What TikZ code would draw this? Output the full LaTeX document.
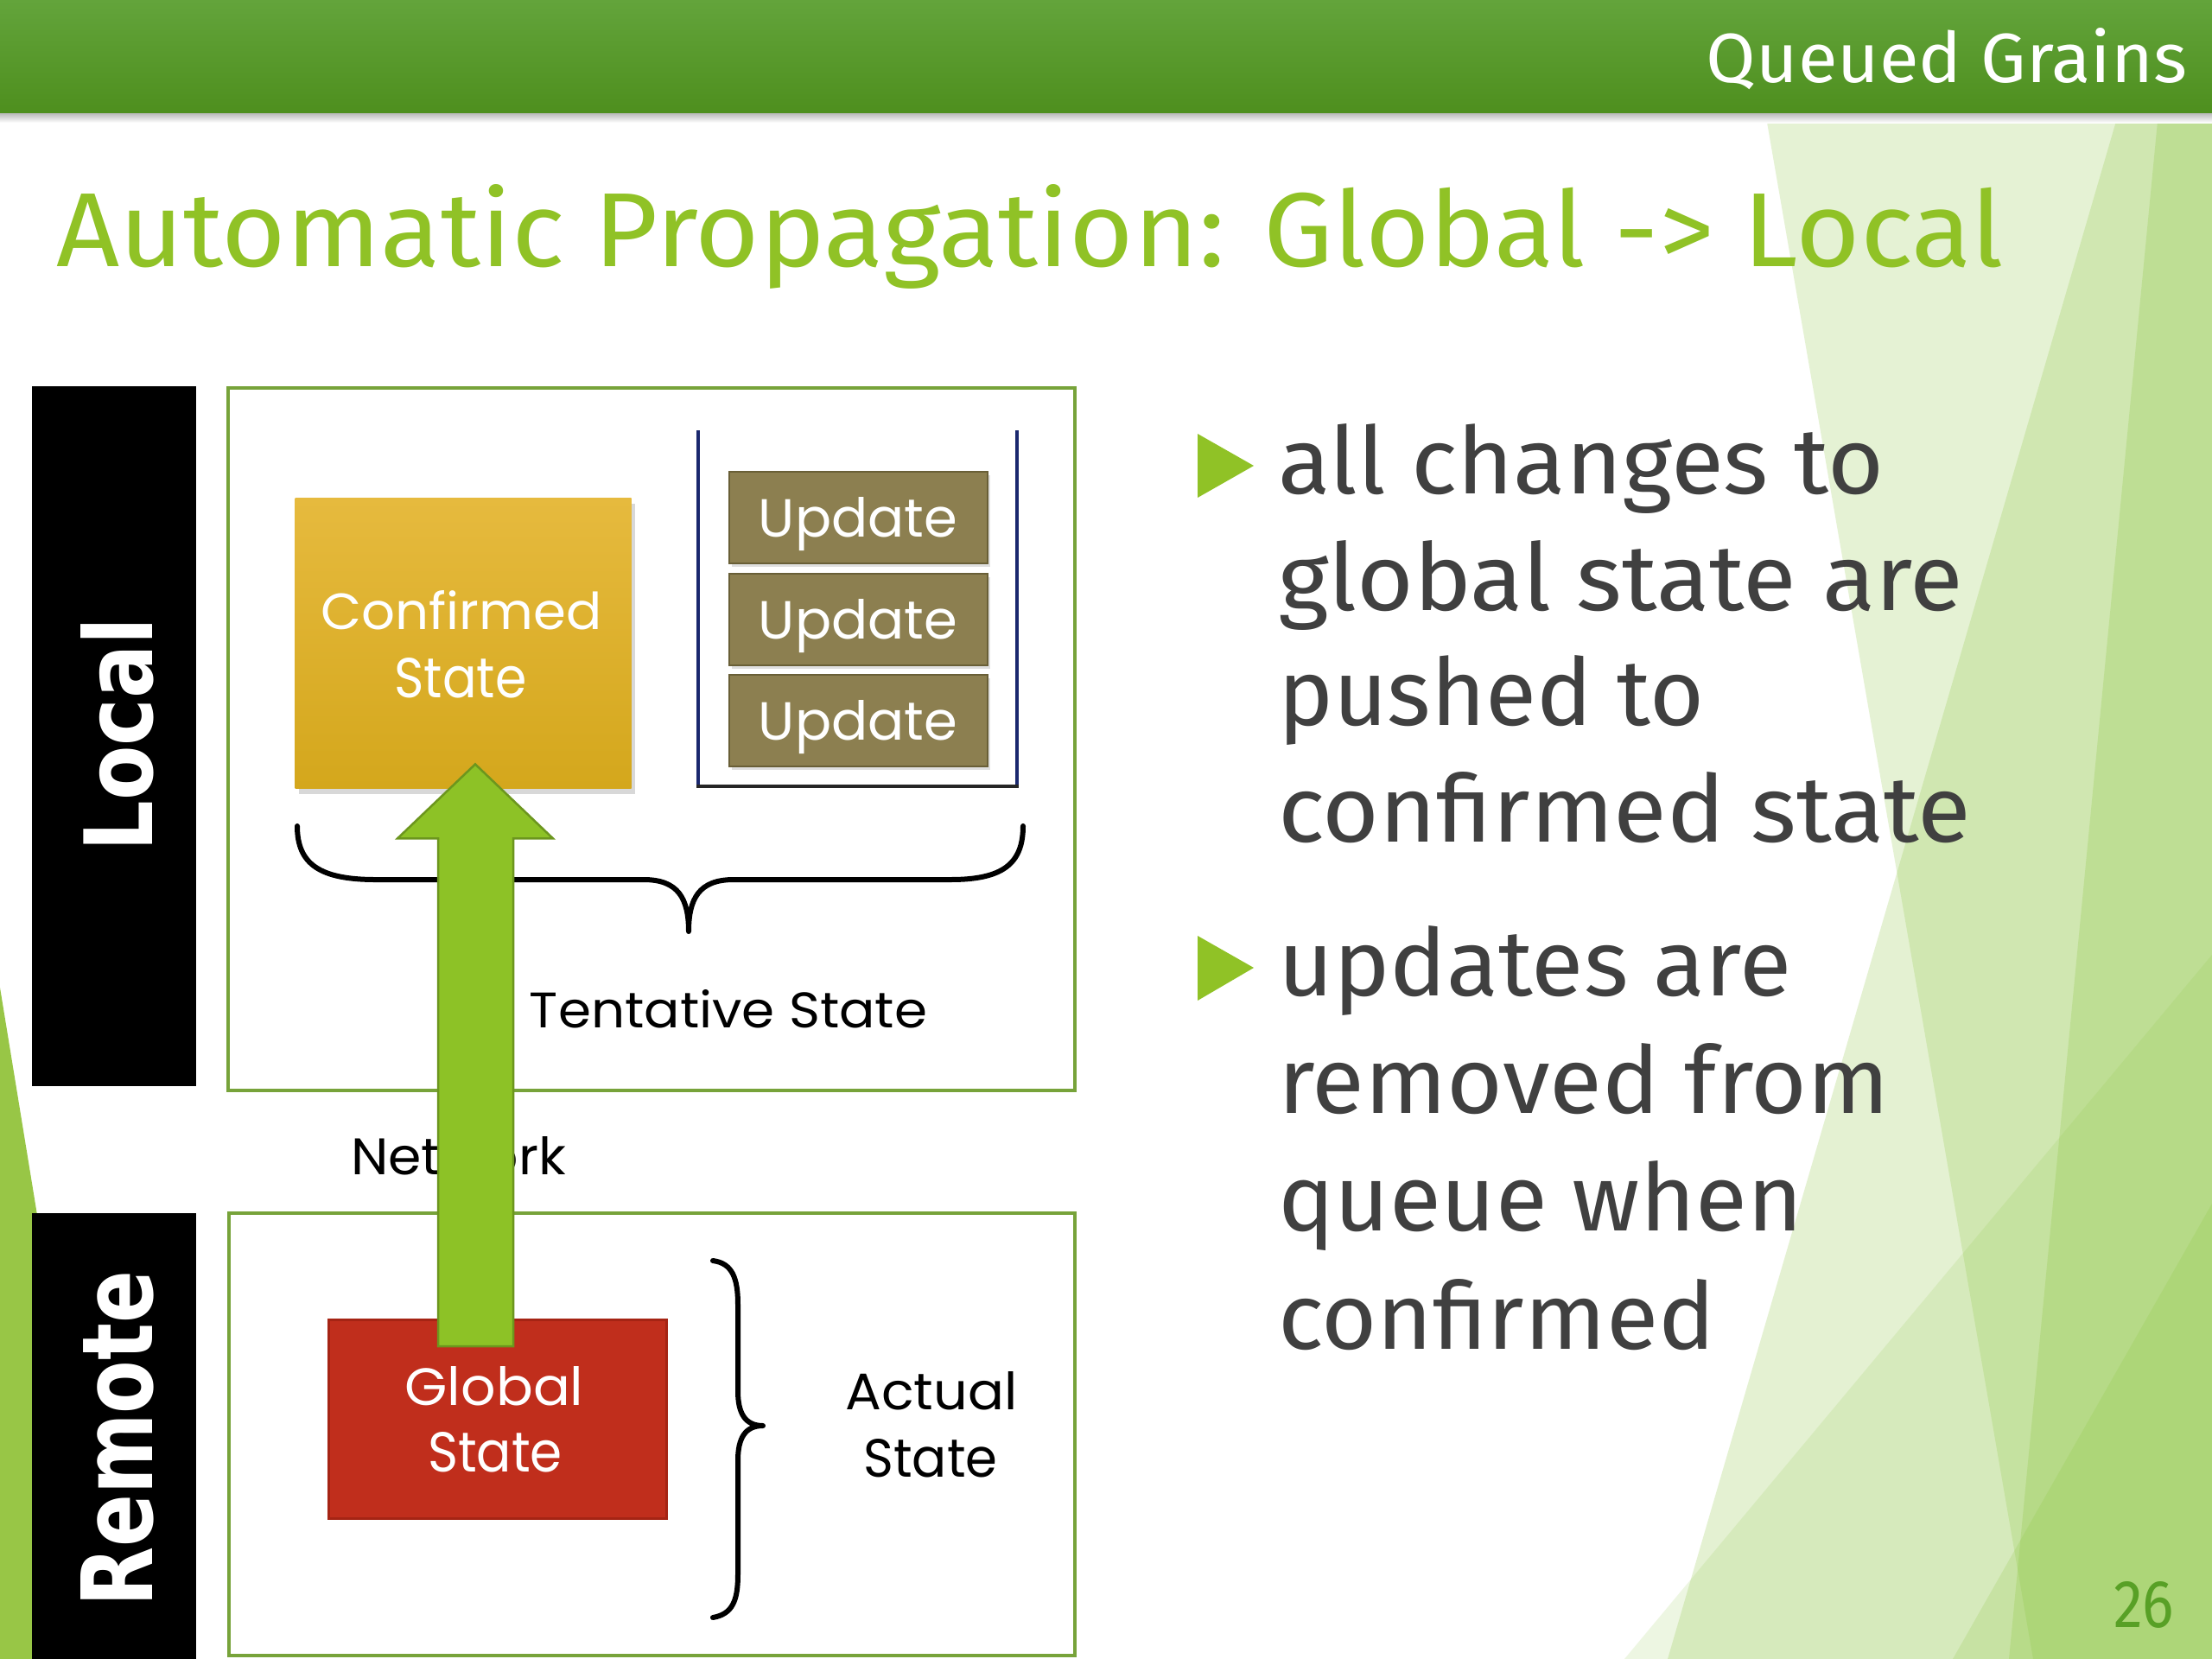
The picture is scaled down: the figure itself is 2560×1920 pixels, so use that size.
\documentclass[tikz,border=0pt]{standalone}
\usepackage{graphicx}
\usepackage{fontspec}
\setmainfont{Fira Sans}
\newfontfamily\diagfont{Poppins}
\newfontfamily\sidefont{DejaVu Sans}
\usetikzlibrary{shadows,calc}
\newlength\pxu \setlength\pxu{0.1mm}
\newcommand\fitt[3]{\resizebox{#1\pxu}{#2\pxu}{#3}}
\definecolor{hdrtop}{RGB}{99,164,59}
\definecolor{hdrbot}{RGB}{78,143,30}
\definecolor{ttl}{RGB}{144,194,38}
\definecolor{bgreen}{RGB}{140,198,63}
\definecolor{txt}{RGB}{64,64,64}
\definecolor{frm}{RGB}{119,163,58}
\definecolor{gold1}{RGB}{230,186,62}
\definecolor{gold2}{RGB}{212,167,28}
\definecolor{upd}{RGB}{140,127,80}
\definecolor{updb}{RGB}{105,95,55}
\definecolor{navy}{RGB}{26,40,110}
\definecolor{gred}{RGB}{192,46,28}
\definecolor{gredb}{RGB}{165,36,20}
\definecolor{arrg}{RGB}{141,194,38}
\definecolor{arrb}{RGB}{108,150,30}
\definecolor{pgn}{RGB}{88,160,38}
\definecolor{wedge}{RGB}{152,198,70}
\tikzset{
  lbl/.style={inner sep=0pt, outer sep=0pt},
  bodyline/.style={lbl, anchor=base west, text=txt},
  wtext/.style={lbl, anchor=base, text=white, font=\diagfont},
  ktext/.style={lbl, anchor=base, text=black, font=\diagfont},
  frame/.style={draw=frm, line width=0.35mm, fill=white},
  updbox/.style={fill=upd, draw=updb, line width=0.2mm, minimum width=299\pxu, minimum height=106\pxu, inner sep=0pt, anchor=north west, drop shadow={opacity=0.25, shadow xshift=0.3mm, shadow yshift=-0.4mm}},
  bracepath/.style={draw=black, line width=0.6mm, line cap=round, line join=round},
  bullettri/.style={fill=ttl},
}
\begin{document}
\begin{tikzpicture}[x=0.1mm,y=-0.1mm]
\useasboundingbox (0,0) rectangle (2560,1920);
\fill[white] (0,0) rectangle (2560,1920);
% background facets
\fill[bgreen,opacity=0.22] (2043,130) -- (2560,130) -- (2560,1920) -- (2353,1920) -- cycle;
\fill[bgreen,opacity=0.23] (2452,130) -- (2560,130) -- (2560,1920) -- (1930,1920) -- cycle;
\fill[bgreen,opacity=0.25] (2498,130) -- (2560,130) -- (2560,1920) -- (2325,1920) -- cycle;
\fill[bgreen,opacity=0.15] (1880,1920) -- (2560,1105) -- (2560,1920) -- cycle;
\fill[bgreen,opacity=0.20] (2260,1920) -- (2560,1393) -- (2560,1920) -- cycle;
% header bar
\shade[top color=black!30,bottom color=white] (0,130) rectangle (2560,142);
\shade[top color=hdrtop,bottom color=hdrbot] (0,0) rectangle (2560,130);
\node[lbl, anchor=base east, text=white] (hdr) at (2531,95) {\fitt{556}{63}{Queued Grains}};
% title
\node[lbl, anchor=base west, text=ttl] (title) at (65,308) {\fitt{2253}{95}{Automatic Propagation: Global -> Local}};
% left wedge
\fill[wedge] (0,1143) -- (127,1920) -- (0,1920) -- cycle;
% side labels
\fill[black] (37,447) rectangle (227,1257);
\fill[black] (37,1404) rectangle (227,1920);
\node[lbl, rotate=90, anchor=base, text=white] (local) at (176,850) {\sidefont\bfseries\fitt{271}{83}{Local}};
\node[lbl, rotate=90, anchor=base, text=white] (remote) at (176,1665) {\sidefont\bfseries\fitt{389}{83}{Remote}};
% frames
\draw[frame] (264,449) rectangle (1244,1262);
\draw[frame] (265,1404) rectangle (1244,1916);
% confirmed state
\node[top color=gold1, bottom color=gold2, minimum width=389\pxu, minimum height=336\pxu, inner sep=0pt, anchor=north west, drop shadow={opacity=0.3, shadow xshift=0.4mm, shadow yshift=-0.6mm}] (conf) at (341,576) {};
\node[wtext] (conft1) at (534,728) {\fitt{325}{45}{Confirmed}};
\node[wtext] (conft2) at (533,807) {\fitt{153}{46}{State}};
% queue
\draw[navy, line width=0.45mm] (808,498) -- (808,912);
\draw[navy, line width=0.45mm] (1177,498) -- (1177,912);
\draw[black!85, line width=0.45mm] (806,910) -- (1179,910);
\node[updbox] (u1) at (843,545) {};
\node[updbox] (u2) at (843,663) {};
\node[updbox] (u3) at (843,780) {};
\node[wtext] (u1t) at (993,621) {\fitt{230}{46}{Update}};
\node[wtext] (u2t) at (993,739) {\fitt{230}{46}{Update}};
\node[wtext] (u3t) at (993,856) {\fitt{230}{46}{Update}};
% tentative brace
\draw[bracepath] (344,956) .. controls (344,1000) and (370,1018) .. (435,1018) -- (745,1018) .. controls (785,1018) and (797,1040) .. (797,1078) .. controls (797,1040) and (809,1018) .. (849,1018) -- (1100,1018) .. controls (1160,1018) and (1184,1000) .. (1184,956);
\node[ktext] (tent) at (843,1189) {\fitt{460}{44}{Tentative State}};
% network
\node[lbl, anchor=base west, text=black, font=\diagfont] (net) at (406,1359) {\fitt{249}{44}{Network}};
% global state
\node[fill=gred, draw=gredb, line width=0.25mm, minimum width=391\pxu, minimum height=230\pxu, inner sep=0pt, anchor=north west] (glob) at (379,1526) {};
\node[wtext] (globt1) at (572,1626) {\fitt{207}{45}{Global}};
\node[wtext] (globt2) at (573,1703) {\fitt{156}{46}{State}};
% actual brace
\draw[bracepath] (825,1459) .. controls (848,1462) and (854,1480) .. (854,1510) -- (854,1610) .. controls (854,1635) and (862,1650) .. (883,1650) .. controls (862,1650) and (854,1665) .. (854,1690) -- (854,1822) .. controls (854,1852) and (848,1868) .. (825,1872);
\node[ktext] (act1) at (1078,1631) {\fitt{199}{44}{Actual}};
\node[ktext] (act2) at (1077,1709) {\fitt{155}{44}{State}};
% propagation arrow
\coordinate (atip) at ($(conf.south west)+(209,-29)$);
\coordinate (abase) at ($(glob.north west)+(171,32)$);
\filldraw[fill=arrg, draw=arrb, line width=0.25mm, line join=miter]
  ($(abase)+(-43,0)$) -- ($(atip)+(-43,86)$) -- ($(atip)+(-90,86)$) -- (atip) -- ($(atip)+(90,86)$) -- ($(atip)+(44,86)$) -- ($(abase)+(44,0)$) -- cycle;
% bullets
\fill[bullettri] (1386,502) -- (1451,539) -- (1386,576) -- cycle;
\fill[bullettri] (1386,1083) -- (1451,1120) -- (1386,1158) -- cycle;
\node[bodyline] (b1) at (1479,571) {\fitt{701}{81}{all changes to}};
\node[bodyline] (b2) at (1479,706) {\fitt{793}{81}{global state are}};
\node[bodyline] (b3) at (1479,839) {\fitt{493}{81}{pushed to}};
\node[bodyline] (b4) at (1479,974) {\fitt{802}{81}{confirmed state}};
\node[bodyline] (b5) at (1479,1152) {\fitt{594}{81}{updates are}};
\node[bodyline] (b6) at (1479,1288) {\fitt{708}{81}{removed from}};
\node[bodyline] (b7) at (1479,1424) {\fitt{607}{81}{queue when}};
\node[bodyline] (b8) at (1479,1561) {\fitt{506}{81}{confirmed}};
% page number
\node[lbl, anchor=base east, text=pgn] (pnum) at (2516,1883) {\fitt{70}{53}{26}};
\end{tikzpicture}
\end{document}
